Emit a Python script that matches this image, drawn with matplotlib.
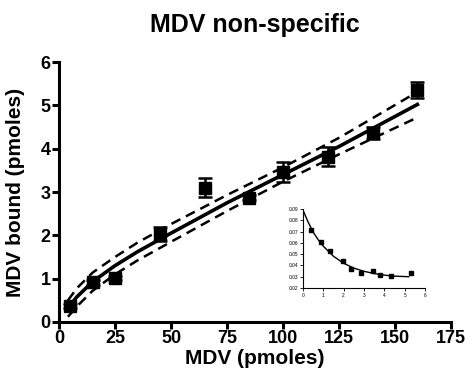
import matplotlib
matplotlib.use('Agg')
import matplotlib.pyplot as plt

plt.rcParams['font.family'] = ['Liberation Sans', 'DejaVu Sans']
plt.rcParams['font.weight'] = 'bold'

# main data (MDV added vs bound)
mdv = [5, 15, 25, 45, 65, 85, 100, 120, 140, 160]
bound = [0.37, 0.92, 1.02, 2.03, 3.1, 2.87, 3.46, 3.81, 4.36, 5.36]
bound_err = [0.05, 0.06, 0.05, 0.17, 0.22, 0.06, 0.23, 0.22, 0.14, 0.19]

# fitted curve and its confidence band
fit_x = [4, 8, 15, 25, 35, 50, 75, 100, 125, 160]
fit_y = [0.33, 0.58, 0.93, 1.3, 1.62, 2.05, 2.75, 3.4, 4.05, 5.02]
fit_hi = [0.5, 0.78, 1.14, 1.5, 1.83, 2.26, 2.93, 3.57, 4.25, 5.31]
fit_lo = [0.12, 0.36, 0.72, 1.1, 1.42, 1.85, 2.56, 3.24, 3.87, 4.72]

# inset data
in_x = [0.38, 0.9, 1.31, 1.97, 2.38, 2.83, 3.45, 3.81, 4.34, 5.3]
in_y = [0.0714, 0.061, 0.0528, 0.0443, 0.0366, 0.0336, 0.0349, 0.0319, 0.0308, 0.0336]
in_fit_x = [0, 0.25, 0.5, 0.75, 1, 1.5, 2, 2.5, 3, 3.5, 4, 4.5, 5.2]
in_fit_y = [0.089, 0.0785, 0.0695, 0.0627, 0.057, 0.0481, 0.0419, 0.0376, 0.0348,
            0.0328, 0.0314, 0.0305, 0.0300]

fig = plt.figure(figsize=(4.69, 3.88), dpi=100)
ax = fig.add_axes([59/469, 1-322/388, (451-59)/469, (322-62)/388])

ax.plot(fit_x, fit_y, color='black', lw=2.6, zorder=3)
ax.plot(fit_x, fit_hi, color='black', lw=1.8, ls=(0, (4, 2.5)), zorder=3)
ax.plot(fit_x, fit_lo, color='black', lw=1.8, ls=(0, (4, 2.5)), zorder=3)
ax.errorbar(mdv, bound, yerr=bound_err, fmt='s', color='black', ms=8,
            elinewidth=1.8, capsize=5, capthick=1.8, zorder=4, clip_on=False)

ax.set_xlim(0, 175)
ax.set_ylim(0, 6)
ax.set_xticks(range(0, 176, 25))
ax.set_yticks(range(0, 7))
for s in ['top', 'right']:
    ax.spines[s].set_visible(False)
for s in ['left', 'bottom']:
    ax.spines[s].set_linewidth(2.2)
ax.tick_params(width=2.2, length=5, labelsize=13, pad=1)
for lab in ax.get_xticklabels() + ax.get_yticklabels():
    lab.set_fontweight('bold')
ax.set_xlabel('MDV (pmoles)', fontsize=15, fontweight='bold', labelpad=1)
ax.set_ylabel('MDV bound (pmoles)', fontsize=15, fontweight='bold', labelpad=0)
ax.yaxis.set_label_coords(-0.087, 0.5)
fig.text(255/469, 1-32/388, 'MDV non-specific', ha='center', va='baseline',
         fontsize=18, fontweight='bold')

# inset
ins = fig.add_axes([303/469, 1-288/388, (425-303)/469, (288-209)/388])
ins.plot(in_fit_x, in_fit_y, color='black', lw=1.0)
ins.plot(in_x, in_y, 's', color='black', ms=3)
ins.set_xlim(0, 6)
ins.set_ylim(0.02, 0.09)
ins.set_xticks(range(0, 7))
ins.set_yticks([0.02, 0.03, 0.04, 0.05, 0.06, 0.07, 0.08, 0.09])
ins.set_yticklabels(['0.02', '0.03', '0.04', '0.05', '0.06', '0.07', '0.08', '0.09'])
for s in ['top', 'right']:
    ins.spines[s].set_visible(False)
for s in ['left', 'bottom']:
    ins.spines[s].set_linewidth(0.8)
ins.tick_params(width=0.6, length=2, labelsize=3.5, pad=1.5)
for lab in ins.get_xticklabels() + ins.get_yticklabels():
    lab.set_fontweight('normal')

fig.savefig('out.png', dpi=100)
